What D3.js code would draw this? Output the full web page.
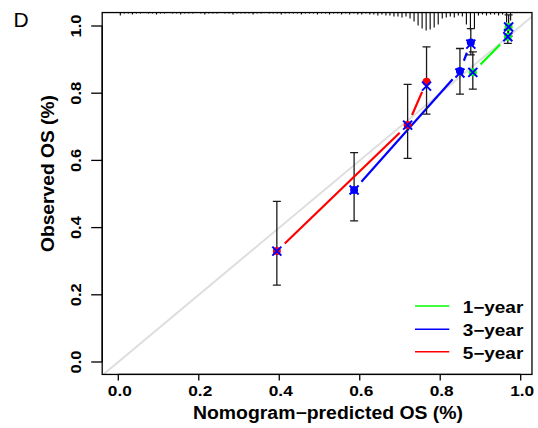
<!DOCTYPE html>
<html>
<head>
<meta charset="utf-8">
<script src="https://cdn.jsdelivr.net/npm/d3@7"></script>
<style>
  body { margin: 0; background: #fff; }
  svg { display: block; }
  text { font-family: "Liberation Sans", Arial, Helvetica, sans-serif; }
</style>
</head>
<body>
<svg id="chart"></svg>
<script>
// calibration groups: predicted, observed (KM), CI, bias-corrected
const predGreen = [0.881, 0.968, 0.970];
const obsGreen  = [0.862, 0.968, 0.997];
const lowGreen  = [0.812, 0.948, 0.970];
const upGreen   = [0.923, 0.990, 1.033];
const corrGreen = [0.862, 0.968, 0.997];

const predBlue = [0.586, 0.849, 0.876];
const obsBlue  = [0.512, 0.866, 0.951];
const lowBlue  = [0.420, 0.797, 0.914];
const upBlue   = [0.623, 0.933, 0.992];
const corrBlue = [0.512, 0.860, 0.946];

const predRed = [0.394, 0.719, 0.766];
const obsRed  = [0.330, 0.705, 0.834];
const lowRed  = [0.229, 0.606, 0.738];
const upRed   = [0.478, 0.826, 0.938];
const corrRed = [0.330, 0.705, 0.821];

const seriesNames = ["1\u2212year", "3\u2212year", "5\u2212year"];
const seriesColors = ["#00ff00", "#0000ff", "#ff0000"];

const xTicks = [0, 0.2, 0.4, 0.6, 0.8, 1.0];
const yTicks = [0, 0.2, 0.4, 0.6, 0.8, 1.0];

// spike histogram of predicted risk, bins of 0.01 starting at 0
const riskCounts = [
  3,1,1,2,1,1,0,1,1,2,
  1,1,0,1,1,2,1,1,1,0,
  1,2,1,1,1,0,1,1,2,1,
  1,1,1,2,1,1,0,1,1,1,
  2,1,1,1,1,2,1,1,1,2,
  1,1,2,1,1,2,1,2,1,2,
  2,1,2,2,3,2,3,3,4,4,
  5,4,6,9,13,16,18,17,15,12,
  6,5,4,5,3,4,12,18,16,3,
  2,3,2,2,3,2,10,8
];

const series = [
  { name: seriesNames[0], color: seriesColors[0], pred: predGreen, obs: obsGreen, low: lowGreen, up: upGreen, corr: corrGreen },
  { name: seriesNames[1], color: seriesColors[1], pred: predBlue, obs: obsBlue, low: lowBlue, up: upBlue, corr: corrBlue },
  { name: seriesNames[2], color: seriesColors[2], pred: predRed, obs: obsRed, low: lowRed, up: upRed, corr: corrRed }
];

const width = 538, height = 428;

const x = d3.scaleLinear().domain([0, 1]).range([118.3, 520.7]);
const y = d3.scaleLinear().domain([0, 1]).range([362, 26]);

const box = { x0: x(-0.04), x1: x(1.028), y0: y(1.04), y1: y(-0.037) };

const svg = d3.select("#chart")
  .attr("width", width)
  .attr("height", height);

svg.append("defs").append("clipPath").attr("id", "plotclip")
  .append("rect")
  .attr("x", box.x0).attr("y", box.y0)
  .attr("width", box.x1 - box.x0).attr("height", box.y1 - box.y0);

const plot = svg.append("g").attr("clip-path", "url(#plotclip)");

// ideal line
plot.append("line")
  .attr("x1", x(-0.1)).attr("y1", y(-0.1))
  .attr("x2", x(1.1)).attr("y2", y(1.1))
  .attr("stroke", "#dedede")
  .attr("stroke-width", 2);

// risk distribution spikes hanging from the top
const spikeScale = d3.scaleLinear().domain([0, 18]).range([0, 18]);
plot.selectAll(".spike")
  .data(riskCounts)
  .enter()
  .append("line")
  .attr("class", "spike")
  .attr("x1", (d, i) => x(i * 0.01 + 0.005))
  .attr("x2", (d, i) => x(i * 0.01 + 0.005))
  .attr("y1", box.y0)
  .attr("y2", d => box.y0 + spikeScale(d))
  .attr("stroke", "#000")
  .attr("stroke-width", 1.1);

const gap = 11;
const cap = 4;

series.forEach(s => {
  const pts = s.pred.map((p, i) => ({ p, o: s.obs[i], lo: s.low[i], hi: s.up[i], c: s.corr[i] }));
  const g = plot.append("g");

  // error bars
  pts.forEach(d => {
    const px = x(d.p);
    g.append("line")
      .attr("x1", px).attr("x2", px)
      .attr("y1", y(d.lo)).attr("y2", y(d.hi))
      .attr("stroke", "#1a1a1a").attr("stroke-width", 1.3);
    [d.lo, d.hi].forEach(v => {
      g.append("line")
        .attr("x1", px - cap).attr("x2", px + cap)
        .attr("y1", y(v)).attr("y2", y(v))
        .attr("stroke", "#1a1a1a").attr("stroke-width", 1.3);
    });
  });

  // connecting line with gaps around the points (type = "b")
  for (let i = 0; i < pts.length - 1; i++) {
    const ax = x(pts[i].p), ay = y(pts[i].o);
    const bx = x(pts[i + 1].p), by = y(pts[i + 1].o);
    const dist = Math.hypot(bx - ax, by - ay);
    if (dist <= 2 * gap) continue;
    const ux = (bx - ax) / dist, uy = (by - ay) / dist;
    g.append("line")
      .attr("x1", ax + ux * gap).attr("y1", ay + uy * gap)
      .attr("x2", bx - ux * gap).attr("y2", by - uy * gap)
      .attr("stroke", s.color)
      .attr("stroke-width", 2.2);
  }

  // observed points
  g.selectAll(".dot")
    .data(pts)
    .enter()
    .append("circle")
    .attr("cx", d => x(d.p))
    .attr("cy", d => y(d.o))
    .attr("r", 4)
    .attr("fill", s.color);

  // bias-corrected estimates
  g.selectAll(".corr")
    .data(pts)
    .enter()
    .append("path")
    .attr("transform", d => `translate(${x(d.p)},${y(d.c)})`)
    .attr("d", "M-4.5,-4.5L4.5,4.5M-4.5,4.5L4.5,-4.5")
    .attr("stroke", "#0000ff")
    .attr("stroke-width", 2)
    .attr("fill", "none");
});

// frame
svg.append("rect")
  .attr("x", box.x0).attr("y", box.y0)
  .attr("width", box.x1 - box.x0).attr("height", box.y1 - box.y0)
  .attr("fill", "none")
  .attr("stroke", "#000")
  .attr("stroke-width", 1.3);

// x axis
const xAxis = svg.append("g");
xAxis.append("line")
  .attr("x1", x(0)).attr("x2", x(1))
  .attr("y1", box.y1).attr("y2", box.y1)
  .attr("stroke", "#000").attr("stroke-width", 1.3);
xAxis.selectAll(".xt")
  .data(xTicks)
  .enter()
  .append("line")
  .attr("x1", d => x(d)).attr("x2", d => x(d))
  .attr("y1", box.y1).attr("y2", box.y1 + 6)
  .attr("stroke", "#000").attr("stroke-width", 1.3);
xAxis.selectAll(".xl")
  .data(xTicks)
  .enter()
  .append("text")
  .attr("x", d => x(d) + 1.5)
  .attr("y", 395.5)
  .attr("text-anchor", "middle")
  .attr("font-size", 15)
  .attr("font-weight", "bold")
  .attr("textLength", 24)
  .attr("lengthAdjust", "spacingAndGlyphs")
  .text(d => d3.format(".1f")(d));

// y axis
const yAxis = svg.append("g");
yAxis.append("line")
  .attr("x1", box.x0).attr("x2", box.x0)
  .attr("y1", y(0)).attr("y2", y(1))
  .attr("stroke", "#000").attr("stroke-width", 1.3);
yAxis.selectAll(".yt")
  .data(yTicks)
  .enter()
  .append("line")
  .attr("x1", box.x0 - 11).attr("x2", box.x0)
  .attr("y1", d => y(d)).attr("y2", d => y(d))
  .attr("stroke", "#000").attr("stroke-width", 1.3);
yAxis.selectAll(".yl")
  .data(yTicks)
  .enter()
  .append("text")
  .attr("transform", d => `translate(80.5,${y(d)}) rotate(-90)`)
  .attr("text-anchor", "middle")
  .attr("font-size", 15)
  .attr("font-weight", "bold")
  .attr("textLength", 23)
  .attr("lengthAdjust", "spacingAndGlyphs")
  .text(d => d3.format(".1f")(d));

// axis titles
svg.append("text")
  .attr("x", 193)
  .attr("y", 419)
  .attr("font-size", 17.5)
  .attr("font-weight", "bold")
  .attr("textLength", 270)
  .attr("lengthAdjust", "spacingAndGlyphs")
  .text("Nomogram\u2212predicted OS (%)");

svg.append("text")
  .attr("transform", "translate(54,252) rotate(-90)")
  .attr("font-size", 17.5)
  .attr("font-weight", "bold")
  .attr("textLength", 157)
  .attr("lengthAdjust", "spacingAndGlyphs")
  .text("Observed OS (%)");

// panel letter
svg.append("text")
  .attr("x", 13.5)
  .attr("y", 27.3)
  .attr("font-size", 21)
  .text("D");

// legend
const legendY = [306, 329.3, 351.7];
const legend = svg.append("g");
series.forEach((s, i) => {
  legend.append("line")
    .attr("x1", 415).attr("x2", 449.3)
    .attr("y1", legendY[i]).attr("y2", legendY[i])
    .attr("stroke", s.color)
    .attr("stroke-width", 1.4);
  legend.append("text")
    .attr("x", 462.7)
    .attr("y", legendY[i] + 7)
    .attr("font-size", 16)
    .attr("font-weight", "bold")
    .attr("textLength", 60.6)
    .attr("lengthAdjust", "spacingAndGlyphs")
    .text(s.name);
});
</script>
</body>
</html>
